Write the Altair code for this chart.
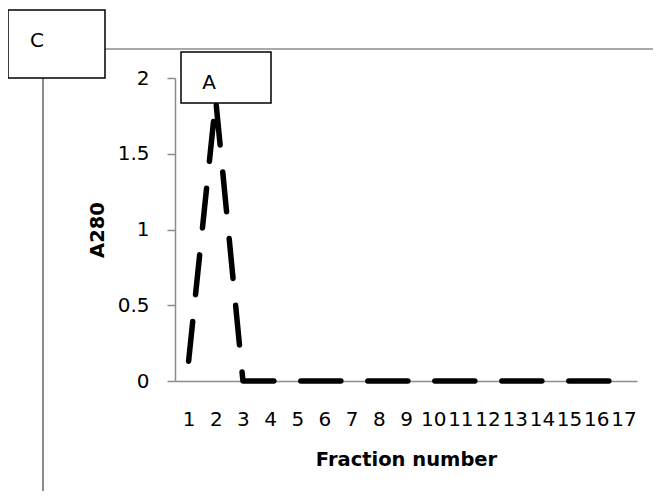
import altair as alt
import pandas as pd

# ---- data ----
fractions = list(range(1, 18))
a280 = [0.13, 1.855, 0, 0, 0, 0, 0, 0, 0, 0, 0, 0, 0, 0, 0, 0, 0]
y_ticks = [0, 0.5, 1, 1.5, 2]

df = pd.DataFrame({"fraction": fractions, "a280": a280})
one = pd.DataFrame({"k": [0]})  # single row for decorations

FONT = "DejaVu Sans"
GRAY = "#8c8c8c"

line = alt.Chart(df).mark_line(
    color="black", strokeWidth=5.5, strokeDash=[40, 27], strokeCap="round",
    strokeJoin="round"
).encode(
    x=alt.X("fraction:O", title="Fraction number",
            scale=alt.Scale(type="point", padding=0.5),
            axis=alt.Axis(labelAngle=0, ticks=False, tickSize=0, labelPadding=28,
                          labelOverlap=False, labelFlush=False,
                          titleBaseline="alphabetic", titleY=84)),
    y=alt.Y("a280:Q", title="A280",
            scale=alt.Scale(domain=[0, 2], nice=False, zero=True),
            axis=alt.Axis(values=y_ticks, format="~g", tickSize=8, labelPadding=18,
                          grid=False, titleX=-72, titleBaseline="alphabetic")),
)

# decorations (pixel positions relative to the plot area)
hline = alt.Chart(one).mark_rule(color=GRAY, strokeWidth=1.5).encode(
    x=alt.value(-70), x2=alt.value(480), y=alt.value(-29))
vline = alt.Chart(one).mark_rule(color=GRAY, strokeWidth=2).encode(
    x=alt.value(-132), y=alt.value(0), y2=alt.value(420))
box_c = alt.Chart(one).mark_rect(fill="white", stroke="black", strokeWidth=1.5).encode(
    x=alt.value(-167), x2=alt.value(-70), y=alt.value(-68), y2=alt.value(0))
text_c = alt.Chart(one).mark_text(text="C", font=FONT, fontSize=20, fontWeight="normal",
                                  align="center", baseline="middle", color="black").encode(
    x=alt.value(-138), y=alt.value(-37))
box_a = alt.Chart(one).mark_rect(fill="white", stroke="black", strokeWidth=1.5).encode(
    x=alt.value(6), x2=alt.value(96), y=alt.value(-26), y2=alt.value(25))
text_a = alt.Chart(one).mark_text(text="A", font=FONT, fontSize=20, fontWeight="normal",
                                  align="center", baseline="middle", color="black").encode(
    x=alt.value(34), y=alt.value(5))

chart = alt.layer(hline, vline, box_c, text_c, line, box_a, text_a).properties(
    width=462, height=303,
    autosize=alt.AutoSizeParams(type="none"),
    padding={"left": 167, "top": 70, "right": 16, "bottom": 110},
).configure_view(stroke=None).configure_axis(
    domainColor=GRAY, domainWidth=1.5, tickColor=GRAY, tickWidth=1.5,
    labelFont=FONT, labelFontSize=20, labelColor="black",
    titleFont=FONT, titleFontSize=19.5, titleFontWeight="bold", titleColor="black",
)

chart.save("out.html", embed_options={"renderer": "svg", "actions": False})
